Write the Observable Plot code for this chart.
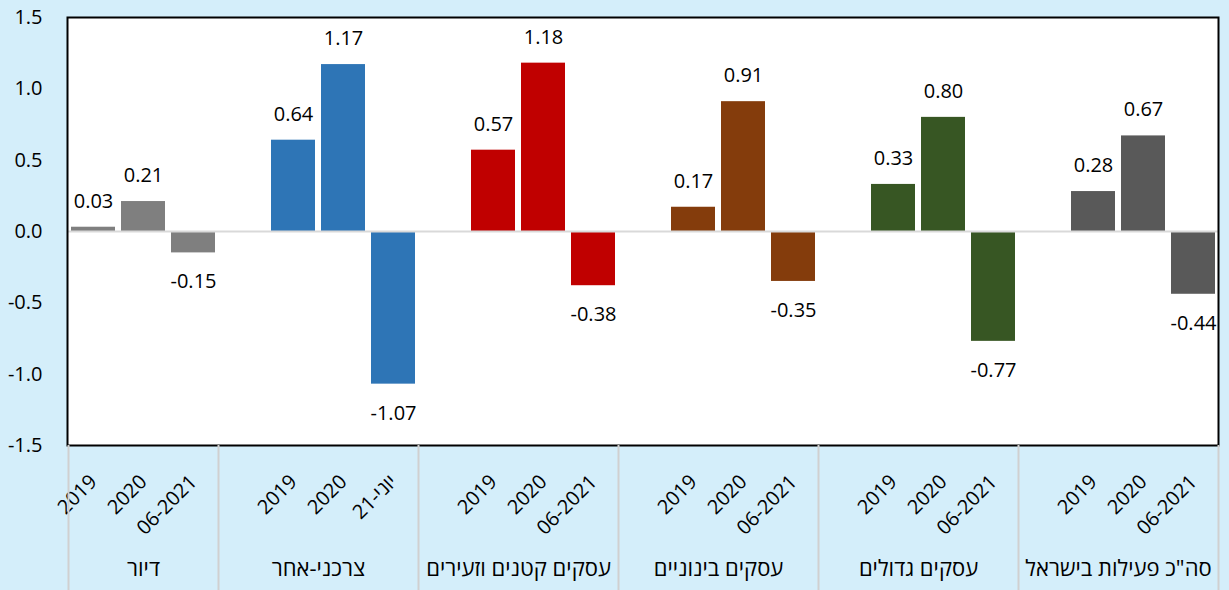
<!DOCTYPE html>
<html>
<head>
<meta charset="utf-8">
<script src="https://cdn.jsdelivr.net/npm/d3@7"></script>
<script src="https://cdn.jsdelivr.net/npm/@observablehq/plot@0.6"></script>
<style>
html, body { margin: 0; padding: 0; background: #d4eefa; }
#chart svg { display: block; }
</style>
</head>
<body>
<div id="chart"></div>
<script>
// Categories (groups) and periods
const groups = ["דיור", "צרכני-אחר", "עסקים קטנים וזעירים", "עסקים בינוניים", "עסקים גדולים", "סה\"כ פעילות בישראל"];
const periods = ["2019", "2020", "06-2021"];
// Tick labels per group (the second group uses a different label for the last period)
const tickLabels = [
  ["2019", "2020", "06-2021"],
  ["2019", "2020", "\u202Bיוני-21\u202C"],
  ["2019", "2020", "06-2021"],
  ["2019", "2020", "06-2021"],
  ["2019", "2020", "06-2021"],
  ["2019", "2020", "06-2021"]
];
// Series values
const values2019 = [0.03, 0.64, 0.57, 0.17, 0.33, 0.28];
const values2020 = [0.21, 1.17, 1.18, 0.91, 0.80, 0.67];
const values2021 = [-0.15, -1.07, -0.38, -0.35, -0.77, -0.44];
const groupColors = ["#7f7f7f", "#2e75b6", "#c00000", "#843c0c", "#375623", "#595959"];
const yTicks = [-1.5, -1.0, -0.5, 0, 0.5, 1.0, 1.5];

const series = [values2019, values2020, values2021];
const slots = [];
const bars = [];
const gapKeys = [];
groups.forEach((g, i) => {
  if (i > 0) { const gk = `gap-${i}`; slots.push(gk); gapKeys.push(gk); }
  periods.forEach((p, j) => {
    const key = `${i}-${p}`;
    slots.push(key);
    bars.push({key, group: g, value: series[j][i], label: tickLabels[i][j], color: groupColors[i]});
  });
});
const labelOf = new Map(bars.map(d => [d.key, d.label]));
const firstKey = bars[0].key;
const lastKey = bars[bars.length - 1].key;

const chart = Plot.plot({
  width: 1229,
  height: 590,
  marginTop: 17,
  marginBottom: 145,
  marginLeft: 67,
  marginRight: 11,
  style: {background: "#d4eefa", fontFamily: "'Open Sans', 'Noto Sans', 'DejaVu Sans', sans-serif", fontSize: "20px", color: "#000"},
  x: {type: "band", domain: slots, paddingInner: 0.12, paddingOuter: 0.06, axis: null},
  y: {domain: [-1.5, 1.5], axis: null},
  color: {type: "identity"},
  marks: [
    Plot.frame({fill: "white"}),
    Plot.barY(bars, {x: "key", y: "value", fill: "color"}),
    Plot.ruleY([0], {stroke: "#d9d9d9", strokeWidth: 2}),
    Plot.frame({stroke: "black", strokeWidth: 2}),
    Plot.axisY({ticks: yTicks, tickFormat: d => d.toFixed(1), tickSize: 0, tickPadding: 25, label: null}),
    Plot.axisX({ticks: bars.map(d => d.key), tickFormat: k => labelOf.get(k), tickRotate: -45, tickSize: 0, tickPadding: 33, label: null}),
    Plot.text(bars.filter(d => d.value >= 0), {x: "key", y: "value", text: d => d.value.toFixed(2), dy: -26}),
    Plot.text(bars.filter(d => d.value < 0), {x: "key", y: "value", text: d => d.value.toFixed(2), dy: 29}),
    Plot.ruleX([firstKey, ...gapKeys], {x: d => d, y1: -1.5, y2: -1.5, insetBottom: -145, dx: -25, stroke: "#d0d0d0", strokeWidth: 2}),
    Plot.ruleX([lastKey], {x: d => d, y1: -1.5, y2: -1.5, insetBottom: -145, dx: 25, stroke: "#d0d0d0", strokeWidth: 2}),
    Plot.text([groups[0]], {x: () => `0-${periods[1]}`, text: d => d, frameAnchor: "bottom", dy: 130, fontSize: 22}),
    Plot.text(groups.slice(1), {x: (d, i) => `${i + 1}-${periods[0]}`, text: d => d, frameAnchor: "bottom", dy: 130, dx: 25, fontSize: 22})
  ]
});
document.getElementById("chart").appendChild(chart);
</script>
</body>
</html>
